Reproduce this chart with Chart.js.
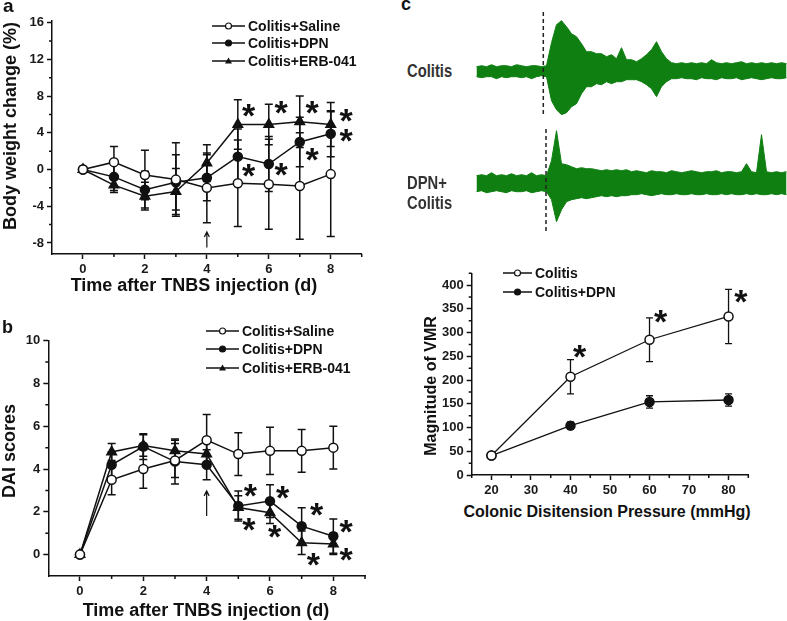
<!DOCTYPE html>
<html>
<head>
<meta charset="utf-8">
<script src="https://cdn.jsdelivr.net/npm/chart.js@4.4.1/dist/chart.umd.min.js"></script>
<style>
  body { margin: 0; background: #fff; }
  #fig { position: relative; width: 787px; height: 621px; overflow: hidden; font-family: 'Liberation Sans', Arial, sans-serif; color: #111; }
  canvas { position: absolute; }
  .lbl { position: absolute; font-weight: bold; white-space: nowrap; line-height: 1; }
  .ctr { transform: translate(-50%, -50%); }
  .rot { transform: translate(-50%, -50%) rotate(-90deg); }
  .trace { font-size: 18px; color: #333; transform-origin: 0 0; transform: scaleX(0.82); }
  .leg { position: absolute; display: flex; align-items: center; font-weight: bold; font-size: 14px; white-space: nowrap; transform: translateY(-50%); }
  .leg svg { margin-right: 3px; }
</style>
</head>
<body>
<div id="fig">
  <canvas id="chartA" width="380" height="300" style="left:0;top:0"></canvas>
  <canvas id="chartB" width="380" height="321" style="left:0;top:300px"></canvas>
  <canvas id="chartC" width="387" height="260" style="left:400px;top:240px"></canvas>
  <canvas id="traceColitis" width="313" height="103" style="left:474px;top:12px"></canvas>
  <canvas id="traceDPN" width="313" height="105" style="left:474px;top:129px"></canvas>

  <div class="lbl" style="left:3px;top:-4px;font-size:19px">a</div>
  <div class="lbl" style="left:2px;top:318px;font-size:18px">b</div>
  <div class="lbl" style="left:401px;top:-5px;font-size:18px">c</div>

  <div class="lbl rot" style="left:10px;top:126px;font-size:18px">Body weight change (%)</div>
  <div class="lbl ctr" style="left:194px;top:285px;font-size:18px">Time after TNBS injection (d)</div>
  <div class="lbl rot" style="left:9px;top:451px;font-size:18px">DAI scores</div>
  <div class="lbl ctr" style="left:206px;top:610px;font-size:18px">Time after TNBS injection (d)</div>
  <div class="lbl rot" style="left:431px;top:386px;font-size:16px">Magnitude of VMR</div>
  <div class="lbl ctr" style="left:607px;top:512px;font-size:16px">Colonic Disitension Pressure (mmHg)</div>

  <div class="lbl trace" style="left:407px;top:62px">Colitis</div>
  <div class="lbl trace" style="left:407px;top:174px">DPN+</div>
  <div class="lbl trace" style="left:407px;top:194px">Colitis</div>

  <div id="legends"></div>
</div>

<script>
'use strict';

// panel a - body weight change
let days = [0, 1, 2, 3, 4, 5, 6, 7, 8];
let weightSaline = [0, 0.8, -0.6, -1.1, -2.0, -1.5, -1.6, -1.8, -0.5];
let weightSalineErr = [0, 1.7, 2.7, 4.0, 3.8, 4.7, 4.9, 5.8, 6.8];
let weightDPN = [0, -0.8, -2.2, -1.4, -0.9, 1.4, 0.6, 3.0, 3.9];
let weightDPNErr = [0, 1.5, 2.0, 3.0, 2.5, 3.0, 3.0, 2.7, 2.5];
let weightERB = [0, -1.7, -2.9, -2.4, 0.7, 4.9, 4.9, 5.2, 4.9];
let weightERBErr = [0, 0.8, 1.5, 2.5, 2.0, 2.7, 2.2, 2.8, 2.4];
let weightTicks = [-8, -4, 0, 4, 8, 12, 16];
let weightMinor = [-6, -2, 2, 6, 10, 14];
let dayTicks = [0, 2, 4, 6, 8];
let dayMinor = [1, 3, 5, 7, 9];
let weightStars = [[5.35, 6.4], [6.4, 6.8], [7.4, 6.8], [8.5, 5.9], [8.5, 3.7], [5.35, -0.1], [6.4, 0.0], [7.4, 1.6]];

// panel b - DAI scores
let daiSaline = [0, 3.5, 4.0, 4.4, 5.35, 4.7, 4.85, 4.85, 5.0];
let daiSalineErr = [0, 0.7, 0.9, 0.8, 1.2, 1.0, 1.1, 1.0, 1.0];
let daiDPN = [0, 4.2, 5.05, 4.35, 4.2, 2.27, 2.5, 1.33, 0.86];
let daiDPNErr = [0, 0.6, 0.6, 1.05, 0.7, 0.7, 0.76, 0.86, 0.8];
let daiERB = [0, 4.8, 5.1, 4.85, 4.7, 2.2, 1.96, 0.55, 0.5];
let daiERBErr = [0, 0.4, 0.5, 0.5, 0.6, 0.55, 0.5, 0.55, 0.5];
let daiTicks = [0, 2, 4, 6, 8, 10];
let daiMinor = [1, 3, 5, 7, 9];
let daiStars = [[5.38, 2.98], [5.33, 1.4], [6.4, 2.9], [6.15, 1.1], [7.47, 2.13], [7.37, -0.22], [8.4, 1.33], [8.4, 0.0]];

// panel c - VMR
let pressures = [20, 40, 60, 80];
let vmrColitis = [41, 207, 285, 334];
let vmrColitisErr = [4, 36, 46, 57];
let vmrDPN = [41, 104, 154, 158];
let vmrDPNErr = [5, 8, 13, 13];
let pressureTicks = [20, 30, 40, 50, 60, 70, 80];
let pressureMinor = [15, 25, 35, 45, 55, 65, 75, 85];
let vmrTicks = [0, 50, 100, 150, 200, 250, 300, 350, 400];
let vmrMinor = [25, 75, 125, 175, 225, 275, 325, 375, 425];
let vmrStars = [[42.3, 260], [62.8, 335], [83.1, 376]];

// panel c - EMG traces, upper/lower envelope per time bin
let colitisHi = [4, 5, 4, 6, 4, 5, 5, 4, 6, 5, 4, 5, 5, 4, 5,
  28, 46, 50, 44, 37, 34, 27, 19, 19, 17, 17, 14, 16, 12, 23, 11, 11, 9, 12, 16, 21, 29, 19, 12,
  8, 7, 8, 7,
  8, 7, 8, 7, 11, 8, 7, 8, 7, 8, 9, 7, 8, 7, 8, 7, 8, 7, 8, 7];
let colitisLo = [-6, -7, -6, -6, -8, -6, -7, -6, -6, -7, -6, -8, -6, -5, -6,
  -30, -39, -44, -42, -36, -33, -23, -16, -16, -13, -14, -11, -13, -11, -11, -9, -9, -9, -11, -14, -18, -26, -16, -11,
  -8, -8, -7, -8,
  -8, -9, -7, -8, -8, -9, -7, -8, -8, -7, -9, -8, -7, -8, -9, -8, -7, -8, -8, -7];
let dpnHi = [7, 8, 7, 10, 7, 8, 7, 9, 7, 8, 7, 10, 7, 8, 7,
  22, 52, 19, 18, 16, 14, 15, 14, 14,
  13, 12, 13, 12, 13, 12, 13,
  11, 12, 11, 10, 12, 11, 11, 10, 12, 11, 10, 11, 12, 11, 10, 11, 11, 12, 10, 11, 11, 10, 11,
  19, 11, 10, 48, 11, 10, 11, 10, 11];
let dpnLo = [-9, -8, -10, -9, -8, -9, -10, -8, -9, -9, -8, -10, -9, -8, -9,
  -17, -39, -27, -19, -17, -16, -15, -16, -15,
  -14, -13, -14, -13, -14, -13, -13,
  -12, -12, -11, -12, -13, -12, -11, -12, -12, -11, -12, -12, -11, -12, -12, -11, -12, -12, -11, -12, -11, -12, -12,
  -11, -12, -11, -12, -12, -11, -12, -11, -12];
let colitisOnset = 13.86;
let dpnOnset = 14.4;

Chart.defaults.font.family = "'Liberation Sans', Arial, sans-serif";
Chart.defaults.color = '#1a1a1a';
Chart.defaults.animation = false;

function toPoints(xs, ys) {
  return xs.map((x, i) => ({x: x, y: ys[i]}));
}

function binPoints(vals) {
  return vals.map((v, i) => ({x: i + 0.5, y: v}));
}

function makeScale(min, max, majors, fitKey, fitValue) {
  return {
    type: 'linear', min: min, max: max,
    afterBuildTicks: s => { s.ticks = majors.map(v => ({value: v})); },
    afterFit: s => { s[fitKey] = fitValue; },
    grid: {drawOnChartArea: false, drawTicks: true, tickLength: 5, tickWidth: 1.5, tickColor: '#111'},
    border: {display: true, color: '#111', width: 1.5},
    ticks: {color: '#1a1a1a', font: {size: 13, weight: 'bold'}, padding: 3, autoSkip: false, maxRotation: 0}
  };
}

function series(label, xs, ys, errs, style, filled, lineW) {
  return {
    label: label,
    data: toPoints(xs, ys),
    errors: errs,
    borderColor: '#111',
    borderWidth: lineW || 1.5,
    pointStyle: style,
    pointRadius: style === 'triangle' ? 5.5 : 4.5,
    pointBackgroundColor: filled ? '#111' : '#fff',
    pointBorderColor: '#111',
    pointBorderWidth: 1.5,
    tension: 0,
    clip: false
  };
}

// plugins
const errorBarPlugin = {
  id: 'errorBars',
  beforeDatasetsDraw(chart, args, opts) {
    let ctx = chart.ctx;
    let xs = chart.scales.x;
    let ys = chart.scales.y;
    ctx.save();
    ctx.strokeStyle = '#111';
    ctx.lineWidth = opts.width || 1.5;
    chart.data.datasets.forEach(ds => {
      if (!ds.errors) return;
      ds.data.forEach((pt, i) => {
        let e = ds.errors[i];
        if (!e) return;
        let px = xs.getPixelForValue(pt.x);
        let top = ys.getPixelForValue(pt.y + e);
        let bot = ys.getPixelForValue(pt.y - e);
        let cap = opts.cap || 4;
        ctx.beginPath();
        ctx.moveTo(px, top); ctx.lineTo(px, bot);
        ctx.moveTo(px - cap, top); ctx.lineTo(px + cap, top);
        ctx.moveTo(px - cap, bot); ctx.lineTo(px + cap, bot);
        ctx.stroke();
      });
    });
    ctx.restore();
  }
};

const minorTickPlugin = {
  id: 'minorTicks',
  afterDraw(chart, args, opts) {
    let ctx = chart.ctx;
    let area = chart.chartArea;
    ctx.save();
    ctx.strokeStyle = '#111';
    ctx.lineWidth = 1.5;
    ctx.beginPath();
    (opts.x || []).forEach(v => {
      let px = chart.scales.x.getPixelForValue(v);
      ctx.moveTo(px, area.bottom);
      ctx.lineTo(px, area.bottom + opts.len);
    });
    (opts.y || []).forEach(v => {
      let py = chart.scales.y.getPixelForValue(v);
      ctx.moveTo(area.left, py);
      ctx.lineTo(area.left - opts.len, py);
    });
    ctx.stroke();
    ctx.restore();
  }
};

const starPlugin = {
  id: 'stars',
  afterDatasetsDraw(chart, args, opts) {
    if (!opts.points) return;
    let ctx = chart.ctx;
    ctx.save();
    ctx.fillStyle = '#111';
    ctx.font = 'bold ' + opts.size + "px 'Liberation Sans', Arial, sans-serif";
    ctx.textAlign = 'center';
    ctx.textBaseline = 'alphabetic';
    let m = ctx.measureText('*');
    let mid = (m.actualBoundingBoxAscent - m.actualBoundingBoxDescent) / 2;
    opts.points.forEach(p => {
      ctx.fillText('*', chart.scales.x.getPixelForValue(p[0]), chart.scales.y.getPixelForValue(p[1]) + mid);
    });
    ctx.restore();
  }
};

const arrowPlugin = {
  id: 'arrow',
  afterDatasetsDraw(chart, args, opts) {
    if (opts.x === undefined) return;
    let ctx = chart.ctx;
    let px = chart.scales.x.getPixelForValue(opts.x);
    let y0 = chart.scales.y.getPixelForValue(opts.from);
    let y1 = chart.scales.y.getPixelForValue(opts.to);
    ctx.save();
    ctx.strokeStyle = '#111';
    ctx.lineWidth = 1.2;
    ctx.beginPath();
    ctx.moveTo(px, y0); ctx.lineTo(px, y1);
    ctx.moveTo(px - 2.5, y1 + 5); ctx.lineTo(px, y1); ctx.lineTo(px + 2.5, y1 + 5);
    ctx.stroke();
    ctx.restore();
  }
};

const onsetPlugin = {
  id: 'onset',
  afterDatasetsDraw(chart, args, opts) {
    let ctx = chart.ctx;
    let px = chart.scales.x.getPixelForValue(opts.x);
    ctx.save();
    ctx.strokeStyle = '#222';
    ctx.lineWidth = 1.5;
    ctx.setLineDash([4, 3]);
    ctx.beginPath();
    ctx.moveTo(px, chart.chartArea.top);
    ctx.lineTo(px, chart.chartArea.bottom);
    ctx.stroke();
    ctx.restore();
  }
};

const plotPlugins = [errorBarPlugin, minorTickPlugin, starPlugin, arrowPlugin];

// panel a
new Chart(document.getElementById('chartA'), {
  type: 'line',
  data: {
    datasets: [
      series('Colitis+Saline', days, weightSaline, weightSalineErr, 'circle', false),
      series('Colitis+DPN', days, weightDPN, weightDPNErr, 'circle', true),
      series('Colitis+ERB-041', days, weightERB, weightERBErr, 'triangle', true)
    ]
  },
  options: {
    responsive: false,
    devicePixelRatio: 1,
    layout: {padding: {left: 0, top: 20.7, right: 18.3, bottom: 0}},
    scales: {
      x: makeScale(-1, 9, dayTicks, 'height', 46),
      y: makeScale(-9.2, 16.2, weightTicks, 'width', 52)
    },
    plugins: {
      legend: {display: false},
      tooltip: {enabled: false},
      errorBars: {cap: 4},
      minorTicks: {x: dayMinor, y: weightMinor, len: 3},
      stars: {points: weightStars, size: 34},
      arrow: {x: 4, from: -8.5, to: -6.8}
    }
  },
  plugins: plotPlugins
});

// panel b
new Chart(document.getElementById('chartB'), {
  type: 'line',
  data: {
    datasets: [
      series('Colitis+Saline', days, daiSaline, daiSalineErr, 'circle', false),
      series('Colitis+DPN', days, daiDPN, daiDPNErr, 'circle', true),
      series('Colitis+ERB-041', days, daiERB, daiERBErr, 'triangle', true)
    ]
  },
  options: {
    responsive: false,
    devicePixelRatio: 1,
    layout: {padding: {left: 0, top: 40.7, right: 15, bottom: 0}},
    scales: {
      x: makeScale(-1, 9, dayTicks, 'height', 45),
      y: makeScale(-1, 10, daiTicks, 'width', 48.3)
    },
    plugins: {
      legend: {display: false},
      tooltip: {enabled: false},
      errorBars: {cap: 4},
      minorTicks: {x: dayMinor, y: daiMinor, len: 3},
      stars: {points: daiStars, size: 34},
      arrow: {x: 4, from: 1.8, to: 2.98}
    }
  },
  plugins: plotPlugins
});

// panel c, VMR
new Chart(document.getElementById('chartC'), {
  type: 'line',
  data: {
    datasets: [
      series('Colitis', pressures, vmrColitis, vmrColitisErr, 'circle', false, 1.3),
      series('Colitis+DPN', pressures, vmrDPN, vmrDPNErr, 'circle', true, 1.3)
    ]
  },
  options: {
    responsive: false,
    devicePixelRatio: 1,
    layout: {padding: {left: 0, top: 33.3, right: 38.7, bottom: 0}},
    scales: {
      x: makeScale(15, 85, pressureTicks, 'height', 25),
      y: makeScale(0, 425, vmrTicks, 'width', 71.7)
    },
    plugins: {
      legend: {display: false},
      tooltip: {enabled: false},
      errorBars: {cap: 3.5, width: 1.3},
      minorTicks: {x: pressureMinor, y: vmrMinor, len: 3},
      stars: {points: vmrStars, size: 34},
      arrow: {}
    }
  },
  plugins: plotPlugins
});

// EMG traces: area between upper and lower envelope
function traceChart(id, hi, lo, yMin, yMax, onset) {
  let green = '#0f7f12';
  return new Chart(document.getElementById(id), {
    type: 'line',
    data: {
      datasets: [{
        data: binPoints(hi),
        borderColor: green,
        backgroundColor: green,
        borderWidth: 1,
        pointRadius: 0,
        tension: 0,
        fill: '+1'
      }, {
        data: binPoints(lo),
        borderColor: green,
        borderWidth: 1,
        pointRadius: 0,
        tension: 0,
        fill: false
      }]
    },
    options: {
      responsive: false,
      devicePixelRatio: 1,
      layout: {padding: 0},
      scales: {
        x: {type: 'linear', min: 0, max: 62.6, display: false},
        y: {type: 'linear', min: yMin, max: yMax, display: false}
      },
      plugins: {
        legend: {display: false},
        tooltip: {enabled: false},
        onset: {x: onset}
      }
    },
    plugins: [onsetPlugin]
  });
}
traceChart('traceColitis', colitisHi, colitisLo, -44.3, 58.7, colitisOnset);
traceChart('traceDPN', dpnHi, dpnLo, -51.3, 53.7, dpnOnset);

// legends
function markerSvg(style, filled, w) {
  let fill = filled ? '#111' : '#fff';
  let mid = w / 2;
  let mark = style === 'triangle'
    ? '<polygon points="' + mid + ',2.5 ' + (mid - 3.5) + ',8.5 ' + (mid + 3.5) + ',8.5" fill="#111"/>'
    : '<circle cx="' + mid + '" cy="6" r="3" fill="' + fill + '" stroke="#111" stroke-width="1.2"/>';
  return '<svg width="' + w + '" height="12"><line x1="0" y1="6" x2="' + w + '" y2="6" stroke="#111" stroke-width="1.5"/>' + mark + '</svg>';
}

function addLegend(left, rows, w, entries) {
  let box = document.getElementById('legends');
  entries.forEach((e, i) => {
    let row = document.createElement('div');
    row.className = 'leg';
    row.style.left = left + 'px';
    row.style.top = rows[i] + 'px';
    row.innerHTML = markerSvg(e[1], e[2], w) + '<span>' + e[0] + '</span>';
    box.appendChild(row);
  });
}

addLegend(212, [25.7, 43.3, 61], 33, [['Colitis+Saline', 'circle', false], ['Colitis+DPN', 'circle', true], ['Colitis+ERB-041', 'triangle', true]]);
addLegend(206, [330.7, 349, 367.7], 33, [['Colitis+Saline', 'circle', false], ['Colitis+DPN', 'circle', true], ['Colitis+ERB-041', 'triangle', true]]);
addLegend(503, [273.3, 291.7], 29, [['Colitis', 'circle', false], ['Colitis+DPN', 'circle', true]]);
</script>
</body>
</html>
